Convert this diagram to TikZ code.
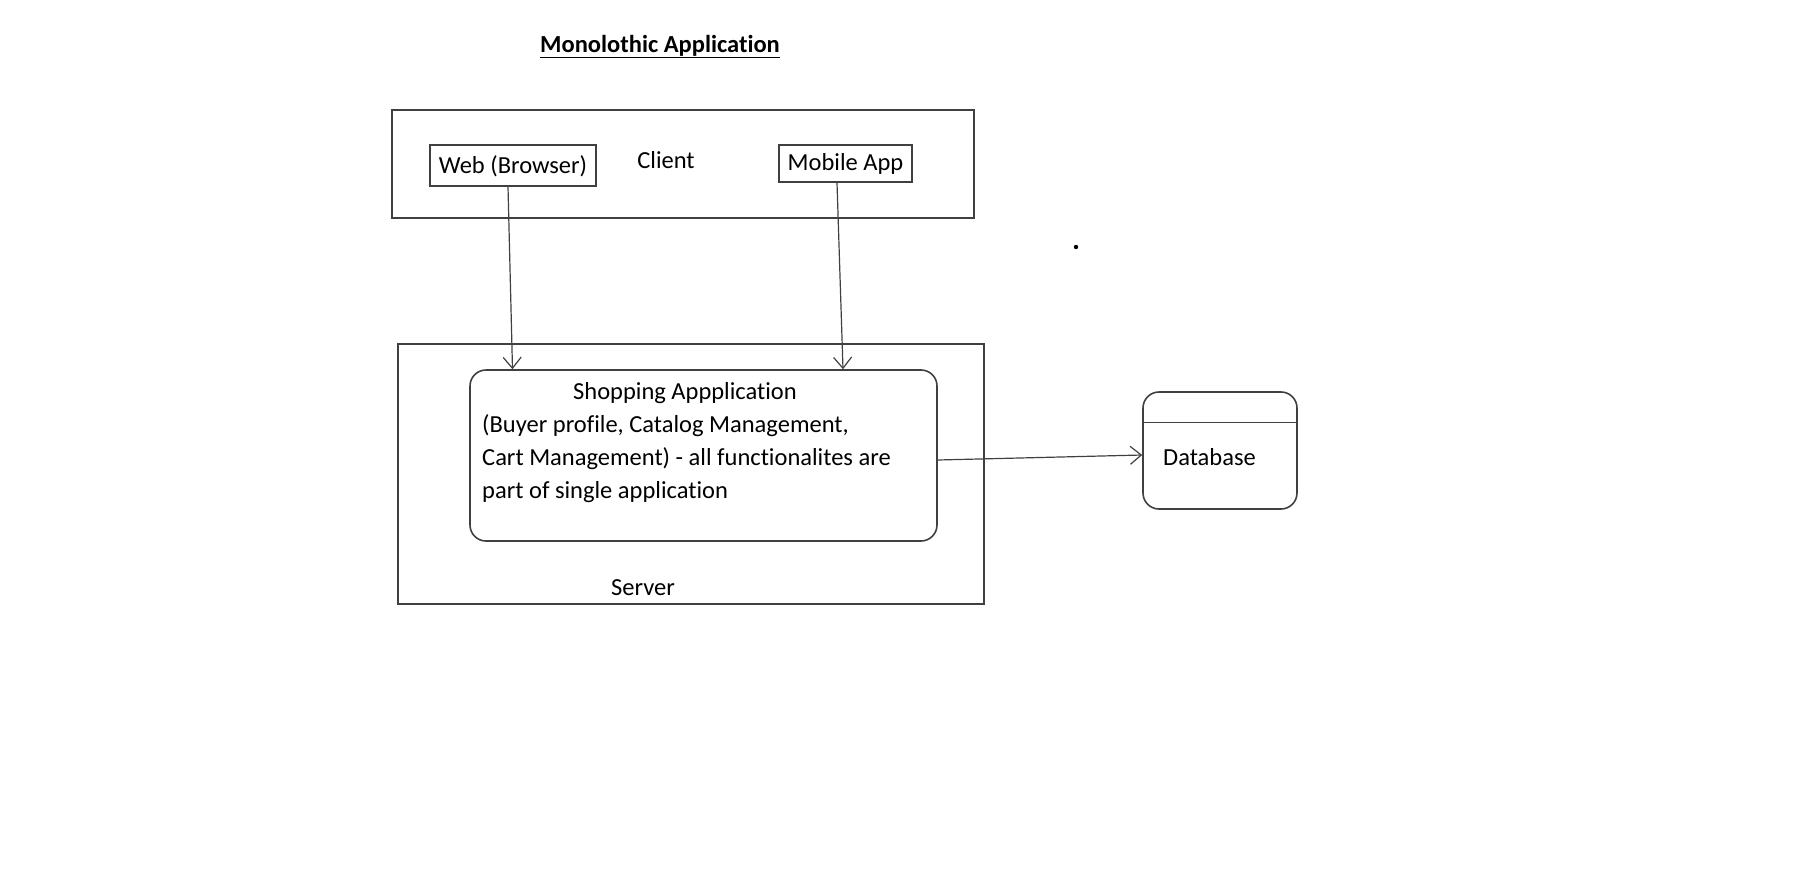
\documentclass[tikz,border=0pt]{standalone}
\usepackage{fontspec}
\setmainfont{Carlito}[Ligatures=NoCommon]
\usetikzlibrary{arrows.meta,calc}
\begin{document}
\begin{tikzpicture}[x=1pt,y=-1pt,
  box/.style={draw=black!75,line width=1.6pt},
  txt/.style={inner sep=0pt,font=\fontsize{24.5}{33}\selectfont,text=black},
  arr/.style={draw=black!75,line width=1.2pt,-{Straight Barb[length=11pt,width=18pt,line width=1.2pt]}}]
\useasboundingbox (0,0) rectangle (1818,870);
% title
\node[txt,font=\fontsize{24.5}{33}\selectfont\bfseries] (title) at (660,46.5) {\underline{Monolothic Application}};
% client
\draw[box] (392,110) rectangle (974,218);
\node[box,minimum width=166pt,minimum height=41pt,inner sep=0pt] (web) at (513,165.5) {};
\node[txt] (webtxt) at ([yshift=-1pt]web.center) {Web (Browser)};
\node[txt] (client) at (666,160) {Client};
\node[box,minimum width=133pt,minimum height=37pt,inner sep=0pt] (mobile) at (845.5,163.5) {};
\node[txt] (mobtxt) at (mobile.center) {Mobile App};
% dot
\fill[black] (1076,247) circle (2.2);
% server
\node[box,minimum width=586pt,minimum height=260pt,inner sep=0pt] (server) at (691,474) {};
\node[txt] (servertxt) at (643,587.5) {Server};
\node[box,rounded corners=16pt,minimum width=467pt,minimum height=171pt,inner sep=0pt] (app) at (703.5,455.5) {};
\node[txt] (apptitle) at (685,393.5) {Shopping Appplication};
\node[txt,anchor=west,align=left] (appbody) at (482,458.5) {(Buyer profile, Catalog Management,\\Cart Management) - all functionalites are\\part of single application};
% database
\node[box,rounded corners=16pt,minimum width=154pt,minimum height=117pt,inner sep=0pt] (db) at (1220,450.5) {};
\draw[box,line width=1.3pt] ([yshift=-31pt]db.north west) -- ([yshift=-31pt]db.north east);
\node[txt,anchor=west] (dbtxt) at (1163,457) {Database};
% connectors
\draw[arr] ([xshift=-5pt]web.south) -- ([xshift=-191pt]app.north);
\draw[arr] ([xshift=-8.5pt]mobile.south) -- ([xshift=139.5pt]app.north);
\draw[arr] ([yshift=-4.5pt]app.east) -- ([yshift=-4.5pt]db.west);
\end{tikzpicture}
\end{document}
